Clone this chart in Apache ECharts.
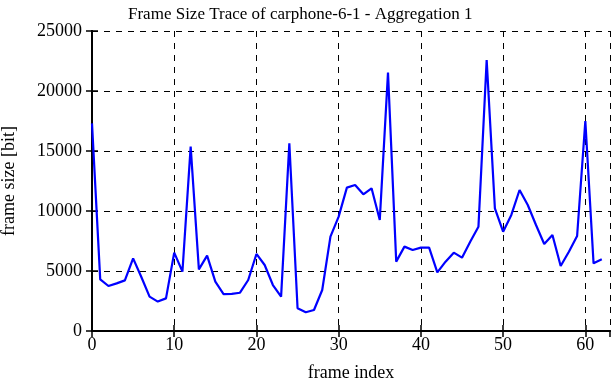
<!DOCTYPE html>
<html><head><meta charset="utf-8">
<script src="https://cdn.jsdelivr.net/npm/echarts@6/dist/echarts.min.js"></script>
<style>html,body{margin:0;padding:0;background:#fff}#c{width:612px;height:382px}</style>
</head><body><div id="c"></div>
<script>
const titleText = 'Frame Size Trace of carphone-6-1 - Aggregation 1';
const xLabel = 'frame index';
const yLabel = 'frame size [bit]';
const frameSizes = [17300, 4300, 3750, 3970, 4220, 6050, 4500, 2860, 2450, 2720,
  6530, 4950, 15360, 5140, 6280, 4110, 3080, 3100, 3190, 4250,
  6420, 5500, 3830, 2860, 15640, 1890, 1560, 1750, 3420, 7860,
  9530, 11950, 12170, 11390, 11890, 9250, 21530, 5780, 7030, 6750,
  6950, 6950, 4890, 5780, 6530, 6110, 7440, 8690, 22580, 10220,
  8280, 9670, 11750, 10500, 8830, 7250, 8000, 5420, 6610, 7920,
  17500, 5640, 5970];
const data = frameSizes.map((v, i) => [i, v]);
const font = 'Liberation Serif';
const chart = echarts.init(document.getElementById('c'));
const axisLine = {show: true, lineStyle: {color: '#000', width: 2}};
const splitLine = {show: true, lineStyle: {color: '#000', type: [6, 6], width: 1}};
const tick = {show: true, inside: true, length: 6, lineStyle: {color: '#000', width: 1.5}};
chart.setOption({
  animation: false,
  title: {text: titleText, left: 123, top: 1,
    textStyle: {fontFamily: font, fontSize: 17, fontWeight: 'normal', color: '#000'}},
  grid: {left: 92, right: 2, top: 31, bottom: 51, containLabel: false, outerBoundsMode: 'none'},
  xAxis: [{
    type: 'value', min: 0, max: 63, interval: 10, position: 'bottom',
    name: xLabel, nameLocation: 'middle', nameGap: 33,
    nameTextStyle: {fontFamily: font, fontSize: 18, color: '#000'},
    axisLine: axisLine, axisTick: tick,
    axisLabel: {fontFamily: font, fontSize: 18, color: '#000', margin: 5, showMaxLabel: false},
    splitLine: splitLine
  }, {
    type: 'value', min: 0, max: 63, interval: 10, position: 'top',
    axisLine: axisLine, axisTick: tick,
    axisLabel: {show: false}, splitLine: {show: false}
  }],
  yAxis: [{
    type: 'value', min: 0, max: 25000, interval: 5000, position: 'left',
    name: yLabel, nameLocation: 'middle', nameGap: 74,
    nameTextStyle: {fontFamily: font, fontSize: 18, color: '#000'},
    axisLine: axisLine, axisTick: tick,
    axisLabel: {fontFamily: font, fontSize: 18, color: '#000', margin: 10, formatter: v => String(v)},
    splitLine: splitLine
  }, {
    type: 'value', min: 0, max: 25000, interval: 5000, position: 'right',
    axisLine: axisLine, axisTick: tick,
    axisLabel: {show: false}, splitLine: {show: false}
  }],
  series: [{
    type: 'line', data: data, xAxisIndex: 0, yAxisIndex: 0,
    showSymbol: false, symbol: 'none',
    lineStyle: {color: '#0000ff', width: 2.2}
  }]
});
</script></body></html>
